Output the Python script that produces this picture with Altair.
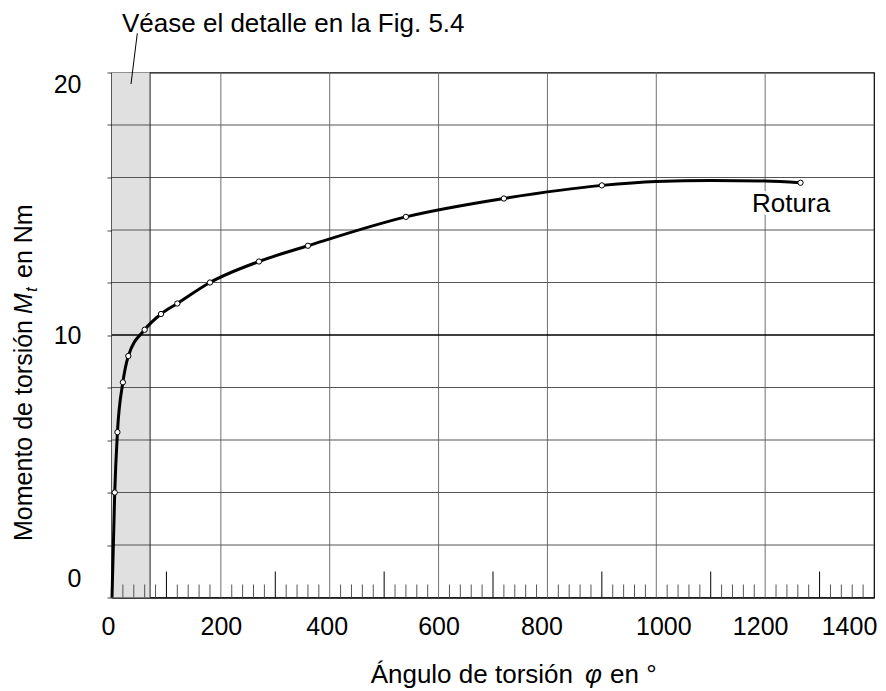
import altair as alt
import pandas as pd

# ---- data ----
phi_points = [5, 10, 20, 30, 60, 90, 120, 180, 270, 360, 540, 720, 900, 1265]
mt_points = [4.0, 6.3, 8.2, 9.2, 10.2, 10.8, 11.2, 12.0, 12.8, 13.4, 14.5, 15.2, 15.7, 15.8]
curve_phi = [0, 5, 10, 20, 30, 60, 90, 120, 180, 270, 360, 540, 720, 900, 1000, 1100, 1200, 1265]
curve_mt = [0, 4.0, 6.3, 8.2, 9.2, 10.2, 10.8, 11.2, 12.0, 12.8, 13.4, 14.5, 15.2, 15.7, 15.85, 15.89, 15.87, 15.8]

x_tick_values = [0, 200, 400, 600, 800, 1000, 1200, 1400]
y_tick_values = [0, 2, 4, 6, 8, 10, 12, 14, 16, 18, 20]
grid_x_values = [200, 400, 600, 800, 1000, 1200]
grid_y_values = [2, 4, 6, 8, 12, 14, 16, 18]
major_y_values = [10]
short_tick_values = [v for v in range(20, 1400, 20) if v % 100 != 0]
long_tick_values = [v for v in range(100, 1400, 200)]
detail_band = [0, 70]

annot_top = "Véase el detalle en la Fig. 5.4"
annot_break = "Rotura"
ytitle_parts = ["Momento de torsión", "M", "t", "en Nm"]
xtitle_parts = ["Ángulo de torsión", "φ", "en °"]

W, H = 762, 525
FONT = "Liberation Sans"
FS = 25
FS_TXT = 26

xs = alt.Scale(domain=[0, 1400], nice=False, zero=False)
ys = alt.Scale(domain=[0, 20], nice=False, zero=False)

x_axis = alt.Axis(
    values=x_tick_values, title=None, grid=False, ticks=False, tickSize=0,
    format="d", labelOverlap=False, labelFlush=False, labelBound=False,
    labelPadding=17, labelFontSize=FS, labelColor="black", labelFont=FONT,
    domainColor="black", domainWidth=1.2,
    labelOffset={"condition": [
        {"test": "datum.value === 0", "value": -4},
        {"test": "datum.value === 400", "value": -3},
        {"test": "datum.value === 800", "value": -6},
        {"test": "datum.value === 1000", "value": 7},
        {"test": "datum.value === 1200", "value": -5},
        {"test": "datum.value === 1400", "value": -25},
    ], "value": 0},
)
y_axis = alt.Axis(
    values=y_tick_values, title=None, grid=False, tickSize=5, tickColor="#444",
    format="d", labelOverlap=False,
    labelExpr="datum.value % 10 === 0 ? datum.label : ''",
    labelPadding=26, labelFontSize=FS, labelColor="black", labelFont=FONT,
    domainColor="black", domainWidth=2,
    labelOffset={"condition": [
        {"test": "datum.value === 0", "value": -19},
        {"test": "datum.value === 20", "value": 12},
    ], "value": 0},
)

def X(field):
    return alt.X(field, scale=xs, axis=x_axis)

def Y(field):
    return alt.Y(field, scale=ys, axis=y_axis)

band = alt.Chart(pd.DataFrame({"a": [detail_band[0]], "b": [detail_band[1]]})).mark_rect(
    color="#e0e0e0").encode(
    x=X("a:Q"), x2="b:Q", y=alt.value(0), y2=alt.value(H))

vgrid = alt.Chart(pd.DataFrame({"v": grid_x_values})).mark_rule(
    color="#707070", strokeWidth=1).encode(x=X("v:Q"))

hgrid = alt.Chart(pd.DataFrame({"v": grid_y_values})).mark_rule(
    color="#555555", strokeWidth=1).encode(y=Y("v:Q"))

hmajor = alt.Chart(pd.DataFrame({"v": major_y_values})).mark_rule(
    color="black", strokeWidth=1.5).encode(y=Y("v:Q"))

band_edge = alt.Chart(pd.DataFrame({"v": [detail_band[1]]})).mark_rule(
    color="#222222", strokeWidth=1).encode(x=X("v:Q"))

short_ticks = alt.Chart(pd.DataFrame({"v": short_tick_values})).mark_rule(
    color="#555555", strokeWidth=1).encode(
    x=X("v:Q"), y=alt.value(H), y2=alt.value(H - 13))

long_ticks = alt.Chart(pd.DataFrame({"v": long_tick_values})).mark_rule(
    color="black", strokeWidth=1).encode(
    x=X("v:Q"), y=alt.value(H), y2=alt.value(H - 26))

curve = alt.Chart(pd.DataFrame({"phi": curve_phi, "mt": curve_mt})).mark_line(
    color="black", strokeWidth=3, interpolate="monotone").encode(
    x=X("phi:Q"), y=Y("mt:Q"))

points = alt.Chart(pd.DataFrame({"phi": phi_points, "mt": mt_points})).mark_point(
    shape="circle", filled=True, fill="white", stroke="black", strokeWidth=1,
    size=28, opacity=1).encode(x=X("phi:Q"), y=Y("mt:Q"))

rot_df = pd.DataFrame({"t": [annot_break]})
rot_halo = alt.Chart(rot_df).mark_text(
    align="left", baseline="alphabetic", fontSize=FS_TXT, font=FONT,
    stroke="white", strokeWidth=6, color="white").encode(
    text="t:N", x=alt.datum(1176, scale=xs, axis=x_axis), y=alt.datum(14.69, scale=ys, axis=y_axis))
rot_text = alt.Chart(rot_df).mark_text(
    align="left", baseline="alphabetic", fontSize=FS_TXT, font=FONT, color="black").encode(
    text="t:N", x=alt.datum(1176, scale=xs, axis=x_axis), y=alt.datum(14.69, scale=ys, axis=y_axis))

top_text = alt.Chart(pd.DataFrame({"t": [annot_top]})).mark_text(
    align="left", baseline="alphabetic", fontSize=FS_TXT, font=FONT, color="black").encode(
    text="t:N", x=alt.value(10), y=alt.value(-41))
leader = alt.Chart(pd.DataFrame({"t": [annot_top]})).mark_rule(
    color="black", strokeWidth=1).encode(
    x=alt.value(25.3), y=alt.value(-39.2), x2=alt.value(19), y2=alt.value(11.5))

def piece(txt, x, y, align, angle=0, size=FS, style="normal"):
    return alt.Chart(pd.DataFrame({"t": [txt]})).mark_text(
        align=align, baseline="alphabetic", fontSize=size, font=FONT,
        fontStyle=style, color="black", angle=angle).encode(
        text="t:N", x=alt.value(x), y=alt.value(y))

yt = [
    piece(ytitle_parts[0], -80.3, 247.5, "right", 270),
    piece(ytitle_parts[1], -80.3, 241.5, "left", 270, style="italic"),
    piece(ytitle_parts[2], -75.3, 219.5, "left", 270, size=17, style="italic"),
    piece(ytitle_parts[3], -80.3, 205.5, "left", 270),
]
xt = [
    piece(xtitle_parts[0], 461, 610.5, "right", size=FS_TXT),
    piece(xtitle_parts[1], 473, 610.5, "left", size=FS_TXT, style="italic"),
    piece(xtitle_parts[2], 498, 610.5, "left", size=FS_TXT),
]

chart = alt.layer(
    band, vgrid, hgrid, hmajor, band_edge, short_ticks, long_ticks,
    curve, points, rot_halo, rot_text, top_text, leader, *yt, *xt
).properties(
    width=W, height=H,
    padding={"left": 104, "top": 64.5, "right": 4, "bottom": 93},
    autosize="none",
).configure(font=FONT).configure_view(stroke="black", strokeWidth=1.2)

chart.save("out.html", embed_options={"renderer": "svg", "actions": False})
